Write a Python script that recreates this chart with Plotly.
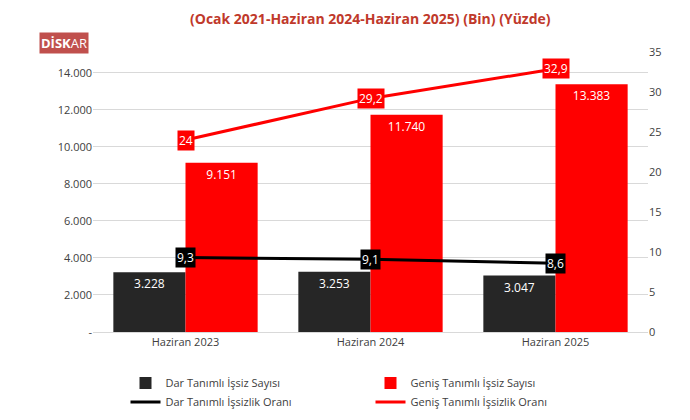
import plotly.graph_objects as go

periods = ["Haziran 2023", "Haziran 2024", "Haziran 2025"]
dar_sayi = [3228, 3253, 3047]
genis_sayi = [9151, 11740, 13383]
dar_oran = [9.3, 9.1, 8.6]
genis_oran = [24, 29.2, 32.9]

def tr(v):
    return f"{v:,}".replace(",", ".")

def trf(v):
    return (f"{v:g}").replace(".", ",")

left_ticks = list(range(0, 16000, 2000))
left_text = ["-"] + [tr(v) for v in left_ticks[1:]]

fig = go.Figure()
fig.add_trace(go.Bar(x=periods, y=dar_sayi, name="Dar Tanımlı İşsiz Sayısı",
                     marker_color="#262626", text=[tr(v) for v in dar_sayi],
                     textposition="inside", insidetextanchor="end",
                     textfont=dict(color="white", size=12)))
fig.add_trace(go.Bar(x=periods, y=genis_sayi, name="Geniş Tanımlı İşsiz Sayısı",
                     marker_color="#ff0000", text=[tr(v) for v in genis_sayi],
                     textposition="inside", insidetextanchor="end",
                     textfont=dict(color="white", size=12)))
fig.add_trace(go.Scatter(x=periods, y=dar_oran, name="Dar Tanımlı İşsizlik Oranı",
                         mode="lines", line=dict(color="black", width=3), yaxis="y2"))
fig.add_trace(go.Scatter(x=periods, y=genis_oran, name="Geniş Tanımlı İşsizlik Oranı",
                         mode="lines", line=dict(color="#ff0000", width=3), yaxis="y2"))

for p, v in zip(periods, dar_oran):
    fig.add_annotation(x=p, y=v, yref="y2", text=trf(v), showarrow=False,
                       bgcolor="black", font=dict(color="white", size=12))
for p, v in zip(periods, genis_oran):
    fig.add_annotation(x=p, y=v, yref="y2", text=trf(v), showarrow=False,
                       bgcolor="#ff0000", font=dict(color="white", size=12))

fig.add_annotation(x=0.5, y=1.0, xref="paper", yref="paper", yanchor="bottom",
                   text="<b>(Ocak 2021-Haziran 2024-Haziran 2025) (Bin) (Yüzde)</b>",
                   showarrow=False, yshift=22, font=dict(color="#c0392b", size=14))
fig.add_annotation(x=-0.098, y=1.07, xref="paper", yref="paper", showarrow=False,
                   text="<b>DİSK</b>AR", bgcolor="#c0504d", font=dict(color="white", size=13),
                   xanchor="left", yanchor="top")

fig.update_layout(
    width=690, height=420, template="none",
    paper_bgcolor="white", plot_bgcolor="white",
    font=dict(family="Open Sans", size=11, color="#404040"),
    margin=dict(l=85, r=50, t=44, b=84),
    barmode="group", bargap=0.22, bargroupgap=0,
    xaxis=dict(showgrid=False, showline=True, linecolor="#d9d9d9", ticks=""),
    yaxis=dict(range=[0, 15130], tickvals=left_ticks, ticktext=left_text,
               showgrid=True, gridcolor="#d9d9d9", zeroline=False, ticks=""),
    yaxis2=dict(range=[0, 35], dtick=5, overlaying="y", side="right",
                showgrid=False, zeroline=False, ticks=""),
    legend=dict(orientation="h", x=0.5, xanchor="center", y=-0.13, yanchor="top",
                entrywidth=200, font=dict(size=11)),
    showlegend=True,
)
fig.write_html("out.html")
